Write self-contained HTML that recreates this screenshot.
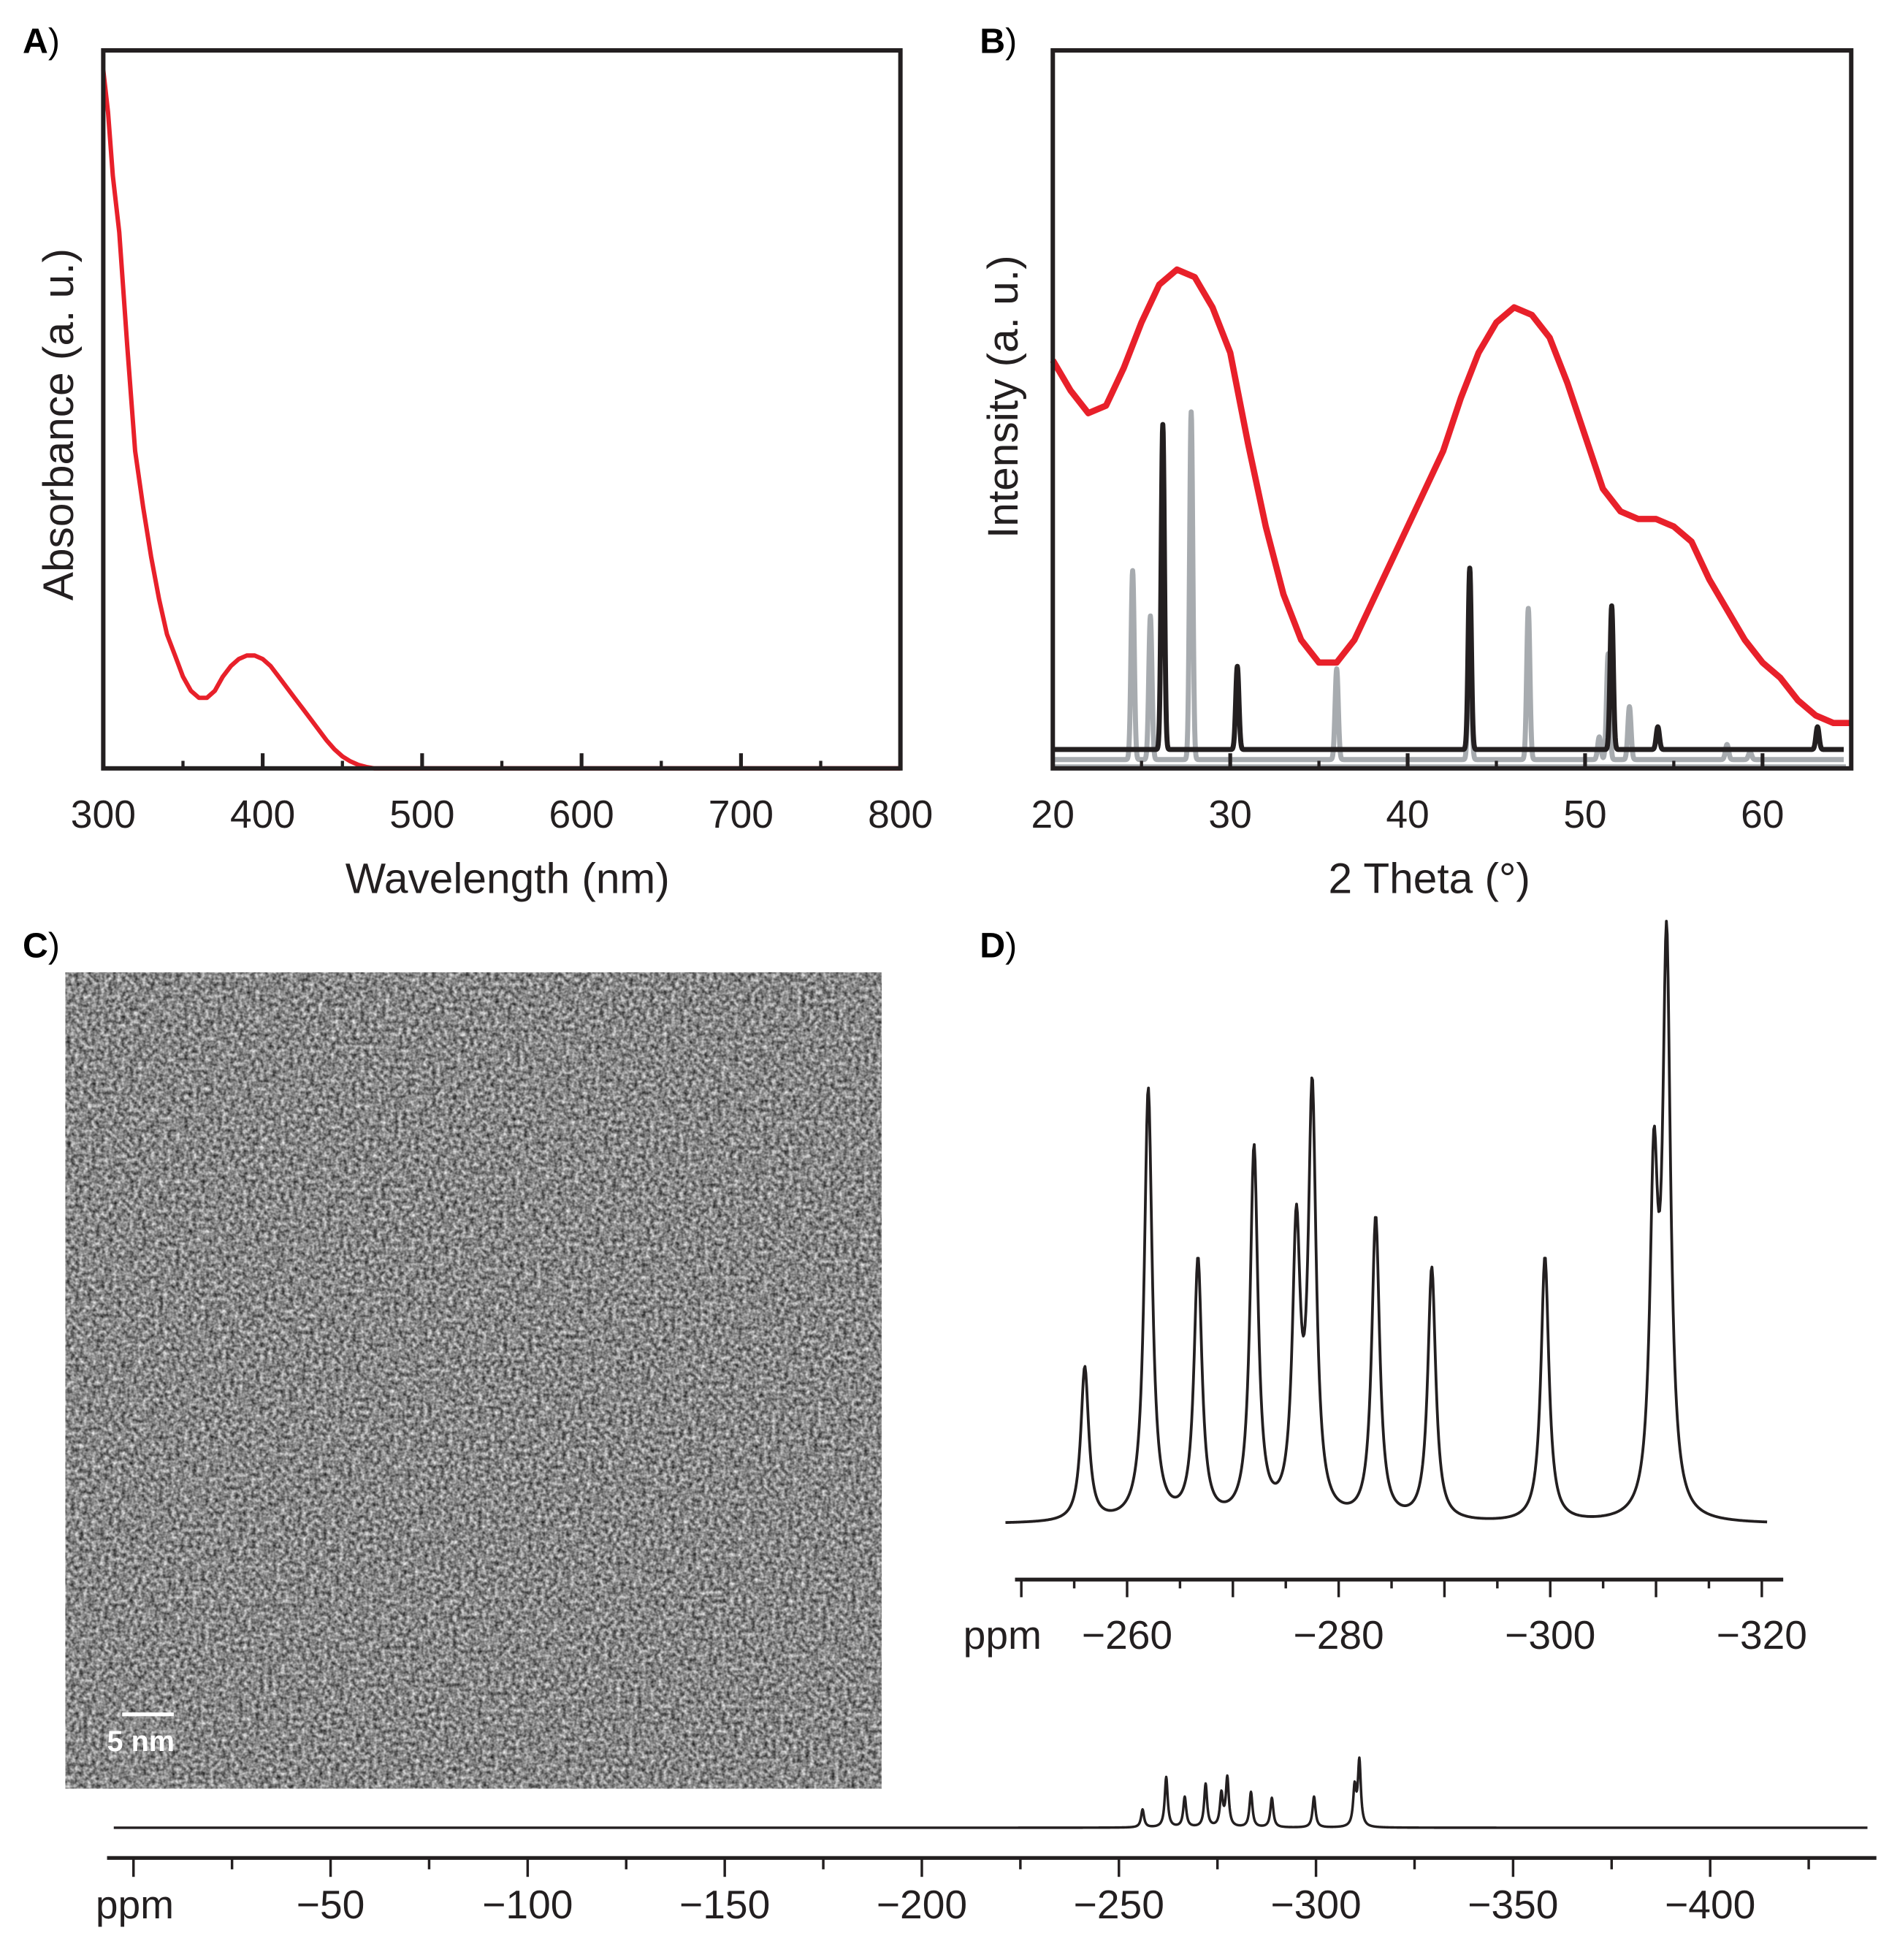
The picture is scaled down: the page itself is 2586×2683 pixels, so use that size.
<!DOCTYPE html>
<html><head><meta charset="utf-8"><style>
html,body{margin:0;padding:0;background:#fff;}
svg{display:block;font-family:"Liberation Sans",Arial,sans-serif;}
</style></head><body>
<svg id="fig" width="2586" height="2683" viewBox="0 0 1500 1556" preserveAspectRatio="none" xmlns="http://www.w3.org/2000/svg">
<defs>
<filter id="tem" x="0" y="0" width="1" height="1" color-interpolation-filters="sRGB">
<feTurbulence type="fractalNoise" baseFrequency="0.3" numOctaves="2" seed="3"/>
<feColorMatrix type="matrix" values="1.0 0 0 0 0.03  1.0 0 0 0 0.03  1.0 0 0 0 0.03  0 0 0 0 1"/>
</filter>
</defs>
<g id="panelA"></g>
<g id="panelB"></g>
<g id="panelC">
<text x="18" y="760" font-size="28" font-weight="bold">C<tspan font-weight="normal">)</tspan></text>
<rect x="52" y="772" width="648" height="648" fill="#808080"/>
<rect x="52" y="772" width="648" height="648" filter="url(#tem)"/>
<line x1="97" y1="1361" x2="138" y2="1361" stroke="#fff" stroke-width="3"/>
<text x="85" y="1390" font-size="23" font-weight="bold" fill="#fff">5 nm</text>
</g>
<g id="panelD"></g>
</svg>
<script>
// ---------- Panel A data ----------
const uvWavelength=[300,303,306,310,315,320,325,330,335,340,345,350,355,360,365,370,375,380,385,390,395,400,405,410,415,420,425,430,435,440,445,450,455,460,465,470,475,480,490,500,550,600,650,700,800];
const uvAbsorbance=[0.99,0.93,0.84,0.76,0.60,0.45,0.37,0.30,0.24,0.19,0.16,0.13,0.11,0.10,0.10,0.11,0.13,0.145,0.155,0.16,0.16,0.155,0.145,0.13,0.115,0.10,0.085,0.07,0.055,0.04,0.027,0.017,0.01,0.005,0.002,0.0,0,0,0,0,0,0,0,0,0];
const aTicks=[300,400,500,600,700,800];
// ---------- Panel B data ----------
const xrdTheta=[20,21,22,23,24,25,26,27,28,29,30,31,32,33,34,35,36,37,38,39,40,41,42,43,44,45,46,47,48,49,50,51,52,53,54,55,56,57,58,59,60,61,62,63,64,65];
const xrdIntensity=[0.54,0.50,0.47,0.48,0.53,0.59,0.64,0.66,0.65,0.61,0.55,0.43,0.32,0.23,0.17,0.14,0.14,0.17,0.22,0.27,0.32,0.37,0.42,0.49,0.55,0.59,0.61,0.60,0.57,0.51,0.44,0.37,0.34,0.33,0.33,0.32,0.30,0.25,0.21,0.17,0.14,0.12,0.09,0.07,0.06,0.06];
const refBlackPos=[26.2,30.4,43.5,51.5,54.1,63.1];
const refBlackHeight=[0.43,0.11,0.24,0.19,0.03,0.03];
const refGrayPos=[24.5,25.5,27.8,36.0,43.5,46.8,50.8,51.3,52.5,58.0,59.3];
const refGrayHeight=[0.25,0.19,0.46,0.12,0.19,0.20,0.03,0.14,0.07,0.02,0.01];
const bTicks=[20,30,40,50,60];
// ---------- Panel D data ----------
const nmrShift=[-256,-262,-266.7,-272,-276,-277.5,-283.5,-288.8,-299.5,-309.8,-311];
const nmrHeight=[0.25,0.70,0.42,0.60,0.45,0.68,0.49,0.41,0.43,0.53,0.91];
const insetTicks=[-260,-280,-300,-320];
const mainTicks=[-50,-100,-150,-200,-250,-300,-350,-400];

const NS='http://www.w3.org/2000/svg';
function mk(parent,tag,attrs){const e=document.createElementNS(NS,tag);for(const k in attrs)e.setAttribute(k,attrs[k]);parent.appendChild(e);return e;}

// ===== Panel A =====
const A=document.getElementById('panelA');
const ax=w=>82+(w-300)*(633/500);
const ay=v=>610-v*560;
let t=mk(A,'text',{x:18,y:42,'font-size':28,'font-weight':'bold'});t.innerHTML='A<tspan font-weight="normal">)</tspan>';


let d='';uvWavelength.forEach((w,i)=>{d+=(i?'L':'M')+ax(w).toFixed(1)+' '+ay(uvAbsorbance[i]).toFixed(1);});
let p=mk(A,'path',{d:d,fill:'none',stroke:'#e8202a','stroke-width':3.5,'stroke-linejoin':'round'});


let r=mk(A,'rect',{x:82,y:40,width:633,height:570,fill:'none',stroke:'#231f20','stroke-width':3.5});


aTicks.forEach(v=>{
 let l=mk(A,'line',{x1:ax(v),x2:ax(v),y1:610,y2:598,stroke:'#231f20','stroke-width':3});
 
 
 let tt=mk(A,'text',{x:ax(v),y:657,'font-size':31,'text-anchor':'middle',fill:'#231f20'});tt.textContent=v;
 
 
});
[350,450,550,650,750].forEach(v=>{let l=mk(A,'line',{x1:ax(v),x2:ax(v),y1:610,y2:604,stroke:'#231f20','stroke-width':2.5});
 
 });
t=mk(A,'text',{x:403,y:709,'font-size':34,'text-anchor':'middle',fill:'#231f20'});t.textContent='Wavelength (nm)';


t=mk(A,'text',{x:0,y:0,'font-size':34,'text-anchor':'middle',fill:'#231f20',transform:'translate(58,337) rotate(-90)'});t.textContent='Absorbance (a. u.)';



// ===== Panel B =====
const B=document.getElementById('panelB');
const bx=v=>836+(v-20)*(634/45);
const by=v=>610-v*600;
t=mk(B,'text',{x:778,y:42,'font-size':28,'font-weight':'bold'});t.innerHTML='B<tspan font-weight="normal">)</tspan>';


function refPath(pos,hts,base,w){let s='';for(let x=20;x<=64.6;x+=0.02){let y=0;pos.forEach((c,i)=>{y+=hts[i]*Math.exp(-((x-c)*(x-c))/(2*w*w));});s+=(s?'L':'M')+bx(x).toFixed(2)+' '+(base-y*600).toFixed(2);}return s;}
p=mk(B,'path',{d:'M'+bx(20)+' 608 L'+bx(64.7)+' 608',stroke:'#a7abaf','stroke-width':2.5,fill:'none'});


p=mk(B,'path',{d:refPath(refGrayPos,refGrayHeight,603,0.09),fill:'none',stroke:'#a7abaf','stroke-width':4,'stroke-linejoin':'round'});


p=mk(B,'path',{d:refPath(refBlackPos,refBlackHeight,595,0.09),fill:'none',stroke:'#231f20','stroke-width':4,'stroke-linejoin':'round'});


d='';xrdTheta.forEach((v,i)=>{d+=(i?'L':'M')+bx(v).toFixed(1)+' '+by(xrdIntensity[i]).toFixed(1);});
p=mk(B,'path',{d:d,fill:'none',stroke:'#e8202a','stroke-width':5,'stroke-linejoin':'round'});


r=mk(B,'rect',{x:836,y:40,width:634,height:570,fill:'none',stroke:'#231f20','stroke-width':3.5});


bTicks.forEach(v=>{
 let l=mk(B,'line',{x1:bx(v),x2:bx(v),y1:610,y2:598,stroke:'#231f20','stroke-width':3});
 
 
 let tt=mk(B,'text',{x:bx(v),y:657,'font-size':31,'text-anchor':'middle',fill:'#231f20'});tt.textContent=v;
 
 
});
[25,35,45,55].forEach(v=>{let l=mk(B,'line',{x1:bx(v),x2:bx(v),y1:610,y2:604,stroke:'#231f20','stroke-width':2.5});
 
 });
t=mk(B,'text',{x:1135,y:709,'font-size':34,'text-anchor':'middle',fill:'#231f20'});t.textContent='2 Theta (°)';


t=mk(B,'text',{x:0,y:0,'font-size':34,'text-anchor':'middle',fill:'#231f20',transform:'translate(808,315) rotate(-90)'});t.textContent='Intensity (a. u.)';



// ===== Panel D =====
const D=document.getElementById('panelD');
t=mk(D,'text',{x:778,y:760,'font-size':28,'font-weight':'bold'});t.innerHTML='D<tspan font-weight="normal">)</tspan>';


function spec(ppm){let y=0;nmrShift.forEach((c,i)=>{const g=0.45;y+=nmrHeight[i]*g*g/((ppm-c)*(ppm-c)+g*g);});return y;}
// inset
const ix=v=>895+(-v-260)*8.4;
const iy=v=>1210-v*490;
d='';for(let v=-248.5;v>=-320.5;v-=0.08){d+=(d?'L':'M')+ix(v).toFixed(2)+' '+iy(spec(v)).toFixed(2);}
p=mk(D,'path',{d:d,fill:'none',stroke:'#231f20','stroke-width':2.2,'stroke-linejoin':'round'});


let l=mk(D,'line',{x1:806,x2:1416,y1:1254,y2:1254,stroke:'#231f20','stroke-width':3});


for(let v=-250;v>=-320;v-=5){let m=(v%10===0);let tk=mk(D,'line',{x1:ix(v),x2:ix(v),y1:1254,y2:m?1268:1261,stroke:'#231f20','stroke-width':2});
 
 }
insetTicks.forEach(v=>{let tt=mk(D,'text',{x:ix(v),y:1309,'font-size':32,'text-anchor':'middle',fill:'#231f20'});tt.textContent='\u2212'+(-v);
 
 });
t=mk(D,'text',{x:796,y:1309,'font-size':32,'text-anchor':'middle',fill:'#231f20'});t.textContent='ppm';


// main spectrum
const mx=v=>106+(-v)*3.13;
const my=v=>1451-v*57;
d='';for(let v=5;v>=-440;v-=0.1){d+=(d?'L':'M')+mx(v).toFixed(2)+' '+my(spec(v)).toFixed(2);}
p=mk(D,'path',{d:d,fill:'none',stroke:'#231f20','stroke-width':2,'stroke-linejoin':'round'});


l=mk(D,'line',{x1:85,x2:1490,y1:1475,y2:1475,stroke:'#231f20','stroke-width':3});


for(let v=0;v>=-440;v-=25){let m=(v%50===0);let tk=mk(D,'line',{x1:mx(v),x2:mx(v),y1:1475,y2:m?1490:1484,stroke:'#231f20','stroke-width':2});
 
 }
mainTicks.forEach(v=>{let tt=mk(D,'text',{x:mx(v),y:1523,'font-size':32,'text-anchor':'middle',fill:'#231f20'});tt.textContent='\u2212'+(-v);
 
 });
t=mk(D,'text',{x:107,y:1523,'font-size':32,'text-anchor':'middle',fill:'#231f20'});t.textContent='ppm';


</script>
</body></html>
